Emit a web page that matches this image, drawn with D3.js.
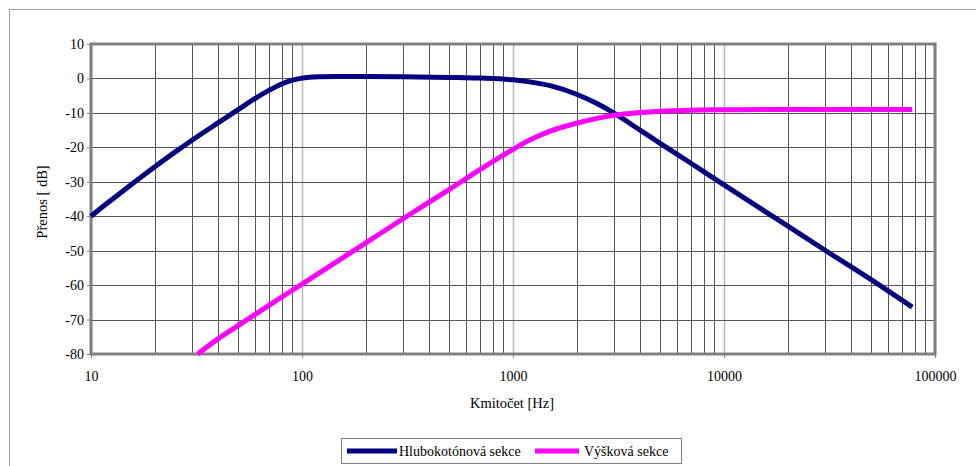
<!DOCTYPE html>
<html>
<head>
<meta charset="utf-8">
<script src="https://cdn.jsdelivr.net/npm/d3@7"></script>
<style>
  body { margin: 0; background: #fff; }
</style>
</head>
<body>
<div id="chart"></div>
<script>
// chart size
const width = 976;
const height = 466;
const serif = "'Liberation Serif', serif";

// series data: [frequency Hz, gain dB]
const lowSeries = [
  [10, -40], [12, -36.1], [15, -31.5], [20, -25.7], [25, -21.4], [30, -18.0],
  [40, -12.9], [50, -9.0], [60, -5.8], [70, -3.4], [80, -1.6], [90, -0.5],
  [100, 0.1], [120, 0.5], [150, 0.6], [200, 0.6], [300, 0.5], [500, 0.3],
  [700, 0.1], [1000, -0.4], [1200, -1.0], [1500, -2.1], [2000, -4.6],
  [2500, -7.3], [3000, -10.0], [4000, -15.0], [5000, -18.9], [7000, -24.7],
  [10000, -30.9], [20000, -42.8], [30000, -49.8], [50000, -58.5], [78000, -66.4]
];
const highSeries = [
  [32, -80], [40, -75.6], [50, -71.7], [70, -65.8], [100, -59.7], [200, -47.8],
  [300, -40.8], [500, -32.2], [700, -26.4], [1000, -20.6], [1200, -17.9],
  [1500, -15.3], [2000, -13.0], [2500, -11.6], [3000, -10.7], [4000, -9.9],
  [5000, -9.5], [7000, -9.2], [10000, -9.1], [20000, -9.0], [78000, -9.0]
];
const seriesNames = ["Hlubokotónová sekce", "Výšková sekce"];
const seriesColors = ["#000080", "#ff00ff"];
const xTicks = [10, 100, 1000, 10000, 100000];
const yTicks = [10, 0, -10, -20, -30, -40, -50, -60, -70, -80];

const margin = { left: 91, top: 44, right: 41, bottom: 112 };
const plotW = width - margin.left - margin.right;
const plotH = height - margin.top - margin.bottom;

const svg = d3.select("#chart").append("svg")
  .attr("width", width)
  .attr("height", height);

// outer frame
svg.append("rect")
  .attr("x", 9.5).attr("y", 9.5)
  .attr("width", width + 20).attr("height", height + 20)
  .attr("fill", "none").attr("stroke", "#a0a0a0");

const x = d3.scaleLog().domain([10, 100000]).range([0, plotW]);
const y = d3.scaleLinear().domain([-80, 10]).range([plotH, 0]);

const g = svg.append("g").attr("transform", `translate(${margin.left},${margin.top})`);

// minor vertical grid (2..9 in every decade)
const minor = [];
for (let d = 10; d < 100000; d *= 10) {
  for (let k = 2; k <= 9; k++) minor.push(d * k);
}
g.selectAll(".minor").data(minor).enter().append("line")
  .attr("x1", d => Math.round(x(d)) + 0.5).attr("x2", d => Math.round(x(d)) + 0.5)
  .attr("y1", 0).attr("y2", plotH)
  .attr("stroke", "#555").attr("stroke-width", 1);

// decade grid lines are lighter
g.selectAll(".major").data(xTicks).enter().append("line")
  .attr("x1", d => Math.round(x(d)) + 0.5).attr("x2", d => Math.round(x(d)) + 0.5)
  .attr("y1", 0).attr("y2", plotH)
  .attr("stroke", "#b8b8b8").attr("stroke-width", 1.5);

// horizontal grid
g.selectAll(".hgrid").data(yTicks).enter().append("line")
  .attr("x1", 0).attr("x2", plotW)
  .attr("y1", d => Math.round(y(d)) + 0.5).attr("y2", d => Math.round(y(d)) + 0.5)
  .attr("stroke", "#555").attr("stroke-width", 1);

// axes (plain hyphen for negatives, like the original)
const xAxis = d3.axisBottom(x).tickValues(xTicks).tickFormat(d => String(d)).tickSize(4).tickPadding(13);
const yAxis = d3.axisLeft(y).tickValues(yTicks).tickFormat(d => String(d)).tickSize(4).tickPadding(3);

const gx = g.append("g").attr("transform", `translate(0,${plotH})`).call(xAxis);
const gy = g.append("g").call(yAxis);
[gx, gy].forEach(a => {
  a.select(".domain").remove();
  a.selectAll("line").attr("stroke", "#808080");
  a.selectAll("text").attr("font-family", serif).attr("font-size", 14);
});

// plot border
g.append("rect")
  .attr("x", 0).attr("y", 0).attr("width", plotW).attr("height", plotH)
  .attr("fill", "none").attr("stroke", "#808080").attr("stroke-width", 3);

// curves
const line = d3.line()
  .x(d => x(d[0]))
  .y(d => y(d[1]))
  .curve(d3.curveMonotoneX);

[lowSeries, highSeries].forEach((s, i) => {
  g.append("path")
    .datum(s)
    .attr("d", line)
    .attr("fill", "none")
    .attr("stroke", seriesColors[i])
    .attr("stroke-width", 5);
});

// axis titles
svg.append("text")
  .attr("x", 512).attr("y", 408)
  .attr("text-anchor", "middle")
  .attr("font-family", serif)
  .attr("font-size", 14.5)
  .text("Kmitočet [Hz]");

svg.append("text")
  .attr("transform", "translate(47,202) rotate(-90)")
  .attr("text-anchor", "middle")
  .attr("font-family", serif)
  .attr("font-size", 14.5)
  .text("Přenos [ dB]");

// legend
const legend = svg.append("g");
legend.append("rect")
  .attr("x", 341.5).attr("y", 438.5).attr("width", 340).attr("height", 25)
  .attr("fill", "#fff").attr("stroke", "#808080");
const legendX = [[347, 397, 399], [535, 579, 584]];
seriesNames.forEach((n, i) => {
  legend.append("line")
    .attr("x1", legendX[i][0]).attr("x2", legendX[i][1])
    .attr("y1", 451).attr("y2", 451)
    .attr("stroke", seriesColors[i]).attr("stroke-width", 5);
  legend.append("text")
    .attr("x", legendX[i][2]).attr("y", 456)
    .attr("font-family", serif)
    .attr("font-size", 14)
    .text(n);
});
</script>
</body>
</html>
